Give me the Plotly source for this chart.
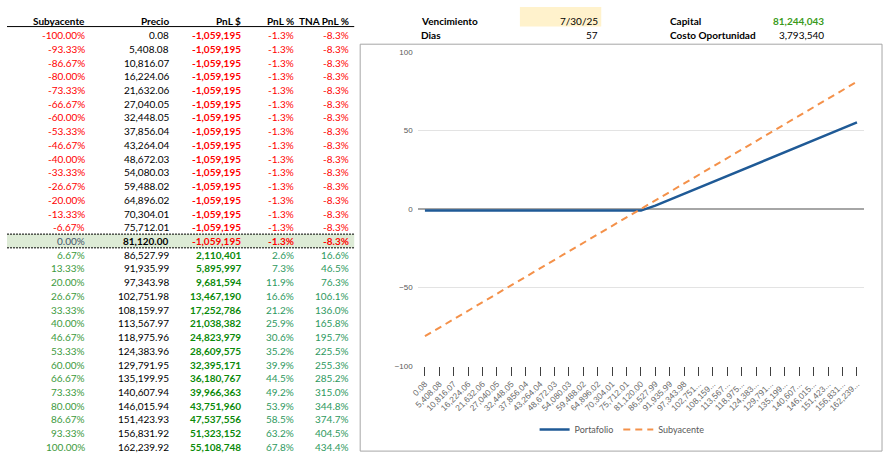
import plotly.graph_objects as go

# ---------------- data ----------------
sub_pct = [-100.00, -93.33, -86.67, -80.00, -73.33, -66.67, -60.00, -53.33, -46.67, -40.00,
           -33.33, -26.67, -20.00, -13.33, -6.67, 0.00, 6.67, 13.33, 20.00, 26.67, 33.33,
           40.00, 46.67, 53.33, 60.00, 66.67, 73.33, 80.00, 86.67, 93.33, 100.00]
precio = [0.08, 5408.08, 10816.07, 16224.06, 21632.06, 27040.05, 32448.05, 37856.04, 43264.04,
          48672.03, 54080.03, 59488.02, 64896.02, 70304.01, 75712.01, 81120.00, 86527.99,
          91935.99, 97343.98, 102751.98, 108159.97, 113567.97, 118975.96, 124383.96, 129791.95,
          135199.95, 140607.94, 146015.94, 151423.93, 156831.92, 162239.92]
pnl_usd = [-1059195] * 16 + [2110401, 5895997, 9681594, 13467190, 17252786, 21038382, 24823979,
                             28609575, 32395171, 36180767, 39966363, 43751960, 47537556,
                             51323152, 55108748]
pnl_pct = [-1.3] * 16 + [2.6, 7.3, 11.9, 16.6, 21.2, 25.9, 30.6, 35.2, 39.9, 44.5, 49.2, 53.9,
                         58.5, 63.2, 67.8]
tna_pct = [-8.3] * 16 + [16.6, 46.5, 76.3, 106.1, 136.0, 165.8, 195.7, 225.5, 255.3, 285.2,
                         315.0, 344.8, 374.7, 404.5, 434.4]
headers = ["Subyacente", "Precio", "PnL $", "PnL %", "TNA PnL %"]
spot = 81120.00
info_labels = ["Vencimiento", "Dias", "Capital", "Costo Oportunidad"]
info_values = ["7/30/25", "57", "81,244,043", "3,793,540"]

# chart series (same data in chart units: PnL in millions, underlying move in thousands)
portafolio = [v / 1e6 for v in pnl_usd]
subyacente = [(p - spot) / 1000 for p in precio]


def tick_label(p):
    s = f"{p:,.2f}"
    return s if len(s) <= 9 else s[:7] + "..."


ticktext = [tick_label(p) for p in precio]
idx = list(range(len(precio)))

W, H = 885, 461
FONT = "Lato"
RED = "#FF0000"
GREEN_TXT = "#3C9A3C"
GREEN_PCT = "#2E9960"
GREEN_BOLD = "#0A8A0A"

fig = go.Figure()
fig.add_trace(go.Scatter(x=idx, y=portafolio, mode="lines", name="Portafolio",
                         line=dict(color="#1F5A96", width=2.5)))
fig.add_trace(go.Scatter(x=idx, y=subyacente, mode="lines", name="Subyacente",
                         line=dict(color="#F4914A", width=2, dash="7px,5px")))
# anchor trace for the table axes
fig.add_trace(go.Scatter(x=[None], y=[None], xaxis="x2", yaxis="y2", showlegend=False,
                         hoverinfo="skip"))

# plot area geometry (pixels)
px_l, px_r, px_t, px_b = 414, 864, 49, 369
fig.update_layout(
    width=W, height=H, margin=dict(l=0, r=0, t=0, b=0),
    paper_bgcolor="white", plot_bgcolor="rgba(0,0,0,0)",
    font=dict(family=FONT, size=10, color="black"),
    xaxis=dict(domain=[px_l / W, px_r / W], range=[-0.5, len(idx) - 0.5],
               tickvals=idx, ticktext=ticktext, tickangle=-45, ticks="outside",
               ticklen=9, tickwidth=1, tickcolor="#404040", showgrid=False,
               zeroline=False, showline=False,
               tickfont=dict(family="Liberation Sans", size=8.5, color="#6A6A6A")),
    yaxis=dict(domain=[1 - px_b / H, 1 - px_t / H], range=[-100, 100],
               tickvals=[-100, -50, 0, 50, 100], showgrid=True, gridcolor="#E3E3E3",
               gridwidth=1, zeroline=True, zerolinecolor="#A6A6A6", zerolinewidth=2,
               showline=False, ticks="", ticklabelstandoff=4,
               tickfont=dict(family="Liberation Sans", size=8, color="#595959")),
    xaxis2=dict(domain=[0, 1], range=[0, W], visible=False, anchor="y2"),
    yaxis2=dict(domain=[0, 1], range=[(H - 31.7) / 14, -31.7 / 14], visible=False,
                anchor="x2"),
    legend=dict(orientation="h", x=(620 / W), xanchor="center", y=1 - 434 / H,
                yanchor="middle", font=dict(family=FONT, size=9, color="#595959"),
                itemwidth=30, bgcolor="rgba(0,0,0,0)"),
    showlegend=True,
)

shapes = []
# chart border
shapes.append(dict(type="rect", xref="paper", yref="paper", x0=356 / W, x1=882 / W,
                   y0=1 - 456 / H, y1=1 - 41 / H, line=dict(color="#A6A6A6", width=1),
                   layer="below"))
# highlighted (spot) row
hi = sub_pct.index(0.00)
shapes.append(dict(type="rect", xref="x2", yref="y2", x0=0, x1=350, y0=hi - 0.5, y1=hi + 0.5,
                   fillcolor="#DDEBD6", line=dict(width=0), layer="below"))
for yy in (hi - 0.5, hi + 0.5):
    shapes.append(dict(type="line", xref="x2", yref="y2", x0=0, x1=350, y0=yy, y1=yy,
                       line=dict(color="black", width=1, dash="2px,1px")))
# header underline
shapes.append(dict(type="line", xref="x2", yref="y2", x0=0, x1=350, y0=-0.62, y1=-0.62,
                   line=dict(color="black", width=1)))
# date box
shapes.append(dict(type="rect", xref="x2", yref="y2", x0=517, x1=599, y0=-2.05, y1=-0.62,
                   fillcolor="#FFF2CC", line=dict(width=0), layer="below"))
fig.update_layout(shapes=shapes)

ann = []
col_right = [81, 165, 238, 291, 347]


def add(x, y, text, color="black", anchor="right", bold=False):
    ann.append(dict(x=x, y=y, xref="x2", yref="y2", text=f"<b>{text}</b>" if bold else text,
                    showarrow=False, xanchor=anchor, yanchor="middle",
                    font=dict(family=FONT, size=10, color=color)))


for c, h in enumerate(headers):
    add(col_right[c], -1, h, bold=True)

for i in idx:
    s = sub_pct[i]
    if s < 0:
        sc = RED
    elif s == 0:
        sc = "#44546A"
    else:
        sc = GREEN_TXT
    add(col_right[0], i, f"{s:.2f}%", sc)
    add(col_right[1], i, f"{precio[i]:,.2f}", "black", bold=(i == hi))
    neg = pnl_usd[i] < 0
    add(col_right[2], i, f"{pnl_usd[i]:,}", RED if neg else GREEN_BOLD, bold=True)
    add(col_right[3], i, f"{pnl_pct[i]:.1f}%", RED if neg else GREEN_PCT, bold=(i == hi))
    add(col_right[4], i, f"{tna_pct[i]:.1f}%", RED if neg else GREEN_PCT, bold=(i == hi))

# info block
add(415, -1, info_labels[0], anchor="left", bold=True)
add(415, 0, info_labels[1], anchor="left", bold=True)
add(598, -1, info_values[0])
add(598, 0, info_values[1])
add(666, -1, info_labels[2], anchor="left", bold=True)
add(666, 0, info_labels[3], anchor="left", bold=True)
add(826, -1, info_values[2], "#3A9A1A", bold=True)
add(826, 0, info_values[3])

fig.update_layout(annotations=ann)
fig.write_html("out.html")
